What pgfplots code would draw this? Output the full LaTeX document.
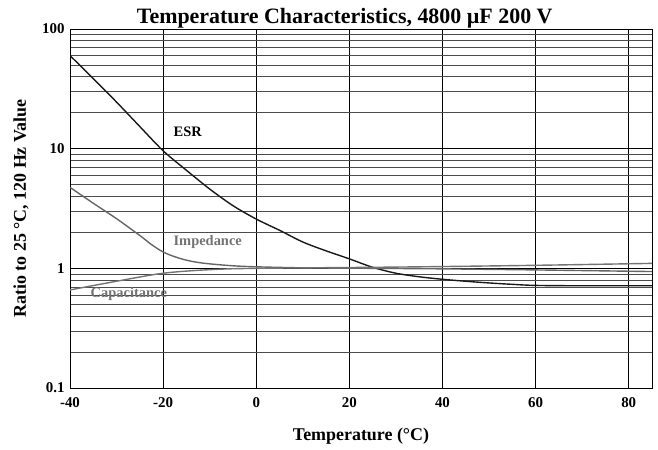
\documentclass[border=0pt]{standalone}
\usepackage{pgfplots}
\pgfplotsset{compat=1.18}
\usepackage{fontspec}
\setmainfont{Liberation Serif}

\begin{document}
\begin{tikzpicture}
\begin{axis}[
    scale only axis,
    width=582bp, height=359bp,
    ymode=log,
    xmin=-40, xmax=85,
    ymin=0.1, ymax=100,
    xtick={-40,-20,0,20,40,60,80},
    ytick={0.1,1,10,100},
    yticklabels={0.1,1,10,100},
    minor ytick={0.2,0.3,0.4,0.5,0.6,0.7,0.8,0.9,2,3,4,5,6,7,8,9,20,30,40,50,60,70,80,90},
    grid=both,
    xminorgrids=false,
    major grid style={black, line width=0.9bp},
    minor grid style={black!70, line width=0.6bp},
    axis line style={black, line width=1bp},
    tick style={draw=none},
    tick label style={font=\fontsize{15}{17}\selectfont\bfseries},
    /pgf/number format/assume math mode=true,
    xticklabel style={yshift=-6bp},
    yticklabel style={xshift=-2bp},
    clip mode=individual,
]
% ESR
\addplot[black!90, line width=1.4bp, smooth] coordinates {
    (-40,60) (-35,38.5) (-30,24.5) (-25,15.3) (-20,9.6) (-15,6.6) (-10,4.6)
    (-5,3.34) (0,2.58) (5,2.08) (10,1.66) (15,1.4) (20,1.2) (25,1.02)
    (30,0.91) (35,0.85) (40,0.81) (45,0.78) (50,0.755) (55,0.735) (60,0.72)
    (70,0.715) (85,0.715)
};
% Impedance
\addplot[black!60, line width=1.4bp, smooth] coordinates {
    (-40,4.75) (-35,3.5) (-30,2.6) (-25,1.88) (-22.5,1.58) (-20,1.37)
    (-17.5,1.25) (-15,1.17) (-12.5,1.12) (-10,1.09) (-5,1.05) (0,1.03)
    (10,1.01) (25,1.0) (40,0.99) (60,0.97) (85,0.94)
};
% Capacitance
\addplot[black!55, line width=1.4bp, smooth] coordinates {
    (-40,0.66) (-30,0.78) (-20,0.91) (-10,0.975) (0,1.0) (25,1.02)
    (40,1.035) (60,1.06) (85,1.1)
};
\node[anchor=base west, font=\fontsize{14.5}{16}\selectfont\bfseries, black] at (axis cs:-18.5,12.7) {ESR};
\node[anchor=base west, font=\fontsize{14.5}{16}\selectfont\bfseries, black!55] at (axis cs:-18.5,1.545) {Impedance};
\node[anchor=base west, font=\fontsize{14.5}{16}\selectfont\bfseries, black!55] at (axis cs:-36.3,0.57) {Capacitance};
\node[anchor=base, font=\fontsize{22}{24}\selectfont\bfseries] at ([yshift=6bp]rel axis cs:0.472,1) {Temperature Characteristics, 4800 µF 200 V};
\node[anchor=base, font=\fontsize{18}{20}\selectfont\bfseries] at ([yshift=-52bp]rel axis cs:0.5,0) {Temperature (°C)};
\node[rotate=90, font=\fontsize{18}{20}\selectfont\bfseries] at ([xshift=-49bp]rel axis cs:0,0.5) {Ratio to 25 °C, 120 Hz Value};
\end{axis}
\path (current axis.south west) ++(-70bp,-62bp) (current axis.north east) ++(6bp,29bp);
\end{tikzpicture}
\end{document}
